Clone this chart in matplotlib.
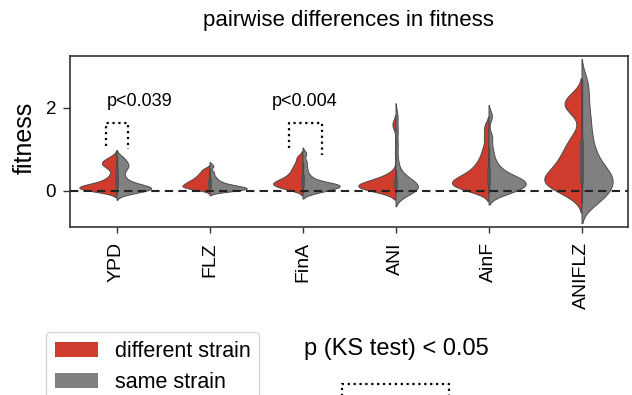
import numpy as np
import matplotlib
matplotlib.use("Agg")
import matplotlib.pyplot as plt
from matplotlib.patches import Patch
from matplotlib.lines import Line2D

plt.rcParams['font.family'] = ['Liberation Sans', 'DejaVu Sans']

conditions = ["YPD", "FLZ", "FinA", "ANI", "AinF", "ANIFLZ"]
group_labels = ["different strain", "same strain"]

# pairwise fitness differences, one list per condition
diff_strain = [
    [0.0, 0.01, 0.02, 0.03, 0.04, 0.05, 0.06, 0.07, 0.08, 0.09, 0.1, 0.11, 0.12, 0.14,
     0.16, 0.18, 0.21, 0.25, 0.3, 0.36, 0.45, 0.55, 0.6, 0.63, 0.66, 0.69, 0.72, 0.76, 0.82],
    [0.02, 0.05, 0.07, 0.09, 0.1, 0.12, 0.13, 0.15, 0.17, 0.19, 0.21, 0.23, 0.25, 0.28,
     0.31, 0.34, 0.38, 0.42, 0.47, 0.53],
    [0.03, 0.06, 0.1, 0.12, 0.15, 0.17, 0.19, 0.21, 0.24, 0.27, 0.31, 0.35, 0.4, 0.46,
     0.53, 0.6, 0.7, 0.82],
    [0.02, 0.04, 0.05, 0.07, 0.08, 0.1, 0.11, 0.12, 0.13, 0.15, 0.17, 0.2, 0.23, 0.27,
     0.32, 0.4, 1.6],
    [0.0, 0.03, 0.06, 0.09, 0.12, 0.15, 0.18, 0.2, 0.22, 0.25, 0.28, 0.31, 0.35, 0.39,
     0.44, 0.5, 0.57, 0.65, 0.75, 0.88, 1.05, 1.3, 1.55],
    [-0.1, 0.0, 0.05, 0.1, 0.15, 0.18, 0.22, 0.25, 0.28, 0.32, 0.36, 0.42, 0.47, 0.53,
     0.6, 0.66, 0.74, 0.82, 0.9, 1.0, 1.1, 1.22, 1.38, 1.9, 2.0, 2.07, 2.13, 2.2, 2.3],
]
same_strain = [
    [-0.06, -0.03, -0.01, 0.0, 0.02, 0.04, 0.05, 0.06, 0.07, 0.08, 0.09, 0.1, 0.12, 0.14,
     0.17, 0.2, 0.25, 0.3, 0.37, 0.45, 0.52, 0.57, 0.61, 0.65, 0.7, 0.76, 0.83],
    [-0.01, 0.0, 0.02, 0.03, 0.04, 0.05, 0.06, 0.07, 0.08, 0.09, 0.1, 0.12, 0.14, 0.16,
     0.19, 0.23, 0.28, 0.35, 0.45, 0.6],
    [-0.04, -0.02, 0.0, 0.03, 0.06, 0.08, 0.1, 0.11, 0.12, 0.13, 0.14, 0.15, 0.17, 0.19,
     0.22, 0.27, 0.33, 0.42, 0.55, 0.7, 0.9],
    [-0.06, -0.03, -0.01, 0.01, 0.03, 0.06, 0.09, 0.11, 0.13, 0.15, 0.18, 0.21, 0.25, 0.3,
     0.38, 0.5, 0.75, 1.1, 1.45, 1.8],
    [-0.06, -0.03, -0.01, 0.02, 0.06, 0.1, 0.13, 0.16, 0.18, 0.2, 0.22, 0.24, 0.27, 0.3,
     0.34, 0.39, 0.45, 0.53, 0.63, 0.78, 1.0, 1.3, 1.8],
    [-0.3, -0.24, -0.18, -0.1, -0.03, 0.03, 0.1, 0.15, 0.2, 0.25, 0.3, 0.35, 0.4, 0.46,
     0.53, 0.6, 0.7, 0.8, 0.92, 1.05, 1.2, 1.38, 1.55, 1.75, 1.95, 2.2, 2.45, 2.7],
]

# KS test results shown as brackets
sig_conditions = ["YPD", "FinA"]
sig_labels = ["p<0.039", "p<0.004"]

red = "#cf3b2c"
grey = "#808080"
edge = "#4a4a4a"


def kde(vals, bw_adjust=0.55, cut=2, n=200):
    v = np.asarray(vals, float)
    bw = bw_adjust * v.std(ddof=1) * len(v) ** (-1 / 5)
    grid = np.linspace(v.min() - cut * bw, v.max() + cut * bw, n)
    dens = np.exp(-0.5 * ((grid[:, None] - v[None, :]) / bw) ** 2).sum(1)
    return grid, dens / (len(v) * bw * np.sqrt(2 * np.pi))


fig = plt.figure(figsize=(6.32, 3.95), dpi=100)
ax = fig.add_axes([70 / 632, 1 - 227 / 395, 558 / 632, 171 / 395])

half = 0.4
for i, cond in enumerate(conditions):
    yl, dl = kde(diff_strain[i])
    yr, dr = kde(same_strain[i])
    m = max(dl.max(), dr.max())
    ax.fill_betweenx(yl, i - dl / m * half, i, facecolor=red, edgecolor=edge, lw=0.7)
    ax.fill_betweenx(yr, i, i + dr / m * half, facecolor=grey, edgecolor=edge, lw=0.7)

    both = np.concatenate([diff_strain[i], same_strain[i]])
    q1, med, q3 = np.percentile(both, [25, 50, 75])
    lim = 1.5 * (q3 - q1)
    lo = both[both >= q1 - lim].min()
    hi = both[both <= q3 + lim].max()
    ax.plot([i, i], [lo, hi], color=edge, lw=1.0, solid_capstyle="butt")
    ax.plot([i, i], [q1, q3], color="#555555", lw=2.8, solid_capstyle="butt")

ax.axhline(0, color="#222222", ls="--", lw=1.5, dashes=(4, 2.5), zorder=5)

# significance brackets
bracket_left = [-0.11, -0.15]
bracket_right = [0.12, 0.215]
bracket_foot = [(1.08, 1.0), (1.04, 0.87)]
label_x = [-0.1, -0.33]
for k, cond in enumerate(sig_conditions):
    i = conditions.index(cond)
    x0, x1 = i + bracket_left[k], i + bracket_right[k]
    f0, f1 = bracket_foot[k]
    ax.plot([x0, x0, x1, x1], [f0, 1.63, 1.63, f1], color="k", ls=":", lw=1.6)
    ax.text(i + label_x[k], 2.04, sig_labels[k], fontsize=13, va="baseline", ha="left")

ax.set_xlim(-0.5, 5.5)
ax.set_ylim(-0.87, 3.25)
ax.set_xticks(range(len(conditions)))
ax.set_xticklabels(conditions, rotation=90, fontsize=14)
ax.set_yticks([0, 2])
ax.tick_params(axis="y", labelsize=13.5, length=5, width=1, pad=5, color="#333333")
ax.tick_params(axis="x", length=4.5, width=1, pad=6.5, color="#333333")
for s in ax.spines.values():
    s.set_color("#333333")
    s.set_linewidth(1.2)

ax.set_ylabel("fitness", fontsize=18, va="center")
ax.yaxis.set_label_coords(-0.081, 0.52)

fig.text(348 / 632, 1 - 26 / 395, "pairwise differences in fitness", fontsize=16,
         ha="center", va="baseline")

handles = [Patch(facecolor=red), Patch(facecolor=grey)]
fig.legend(handles, group_labels, loc="upper left", fontsize=15.5,
           bbox_to_anchor=(46 / 632, 1 - 332 / 395), bbox_transform=fig.transFigure,
           borderaxespad=0)

# key for the brackets
fig.text(304 / 632, 1 - 355 / 395, "p (KS test) < 0.05", fontsize=17, ha="left", va="baseline")
fig.add_artist(Line2D([342 / 632, 342 / 632, 449 / 632, 449 / 632],
                      [-0.05, 1 - 384 / 395, 1 - 384 / 395, -0.05],
                      transform=fig.transFigure, color="k", ls=":", lw=1.6))

fig.savefig("out.png", dpi=100)
